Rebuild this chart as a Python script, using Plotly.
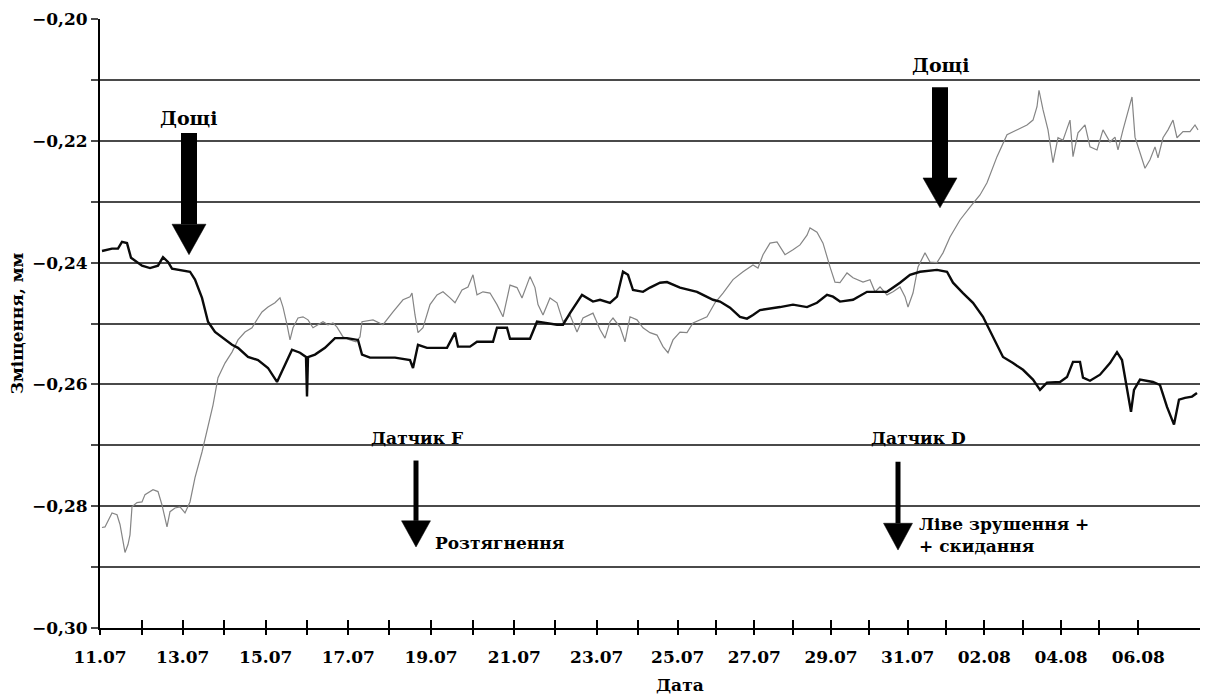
import plotly.graph_objects as go

# ---------------- data ----------------
# x: reading index along the logger record (11.07 = 0); y: displacement, mm
day_labels = ["11.07", "12.07", "13.07", "14.07", "15.07", "16.07", "17.07", "18.07",
              "19.07", "20.07", "21.07", "22.07", "23.07", "24.07", "25.07", "26.07",
              "27.07", "28.07", "29.07", "30.07", "31.07", "01.08", "02.08", "03.08",
              "04.08", "05.08", "06.08"]
day_tick_pos = [0, 41.7, 82.7, 124, 165.7, 206.7, 248.3, 289.3, 331, 372.7, 414.3,
                455.3, 496.7, 538.3, 577.7, 616, 654.3, 692.7, 731, 769.3, 807.7,
                846, 884.3, 922.7, 961, 999.3, 1038.3]

black_x = [2, 12, 18, 22, 27, 31, 42, 50, 58, 63, 68, 72, 90, 95, 102, 108, 115, 123,
           132, 138, 148, 158, 168, 177, 185, 192, 200, 206, 207, 208, 215, 225, 235,
           247, 258, 262, 270, 295, 310, 313, 318, 327, 347, 355, 358, 370, 377, 393,
           397, 407, 410, 430, 437, 457, 463, 470, 482, 493, 500, 510, 517, 523, 528,
           533, 543, 550, 560, 567, 580, 597, 603, 613, 620, 630, 640, 647, 653, 660,
           680, 693, 707, 717, 727, 733, 740, 753, 767, 787, 800, 810, 820, 837, 847,
           853, 863, 873, 883, 893, 903, 913, 923, 933, 940, 947, 960, 967, 973, 980,
           983, 990, 1000, 1010, 1017, 1022, 1031, 1034, 1040, 1053, 1060, 1067, 1074,
           1079, 1085, 1092, 1097]
black_y = [-0.2381, -0.2377, -0.2377, -0.2366, -0.2368, -0.2392, -0.2405, -0.2409,
           -0.2405, -0.2391, -0.2399, -0.2410, -0.2415, -0.2428, -0.2458, -0.2497,
           -0.2514, -0.2524, -0.2535, -0.2540, -0.2555, -0.2560, -0.2573, -0.2596,
           -0.2568, -0.2543, -0.2548, -0.2555, -0.2620, -0.2555, -0.2551, -0.2540,
           -0.2524, -0.2524, -0.2527, -0.2551, -0.2556, -0.2556, -0.2560, -0.2573,
           -0.2535, -0.2540, -0.2540, -0.2515, -0.2538, -0.2538, -0.2530, -0.2530,
           -0.2507, -0.2507, -0.2525, -0.2525, -0.2497, -0.2502, -0.2502, -0.2483,
           -0.2453, -0.2464, -0.2461, -0.2466, -0.2456, -0.2415, -0.2420, -0.2445,
           -0.2448, -0.2441, -0.2433, -0.2432, -0.2441, -0.2448, -0.2453, -0.2461,
           -0.2464, -0.2474, -0.2489, -0.2492, -0.2486, -0.2478, -0.2473, -0.2469,
           -0.2473, -0.2466, -0.2453, -0.2456, -0.2464, -0.2461, -0.2448, -0.2448,
           -0.2433, -0.2420, -0.2415, -0.2412, -0.2415, -0.2433, -0.2450, -0.2466,
           -0.2489, -0.2522, -0.2555, -0.2565, -0.2576, -0.2592, -0.2609, -0.2597,
           -0.2596, -0.2588, -0.2563, -0.2563, -0.2589, -0.2594, -0.2584, -0.2565,
           -0.2547, -0.2560, -0.2645, -0.2609, -0.2592, -0.2596, -0.2601, -0.2637,
           -0.2666, -0.2625, -0.2622, -0.2620, -0.2614]

grey_x = [2, 5, 12, 17, 20, 25, 28, 30, 32, 37, 42, 45, 53, 58, 62, 67, 70, 75, 80,
          85, 90, 95, 102, 108, 113, 118, 125, 132, 138, 145, 152, 158, 162, 168, 175,
          180, 183, 187, 190, 193, 198, 203, 208, 213, 218, 223, 228, 233, 237, 243,
          250, 256, 260, 262, 273, 283, 293, 303, 310, 312, 315, 318, 323, 330, 337,
          343, 350, 355, 362, 368, 373, 377, 383, 390, 397, 403, 410, 417, 422, 430,
          435, 438, 443, 450, 457, 463, 470, 477, 483, 493, 500, 505, 510, 513, 520,
          525, 530, 537, 543, 550, 557, 563, 568, 573, 580, 587, 593, 600, 607, 615,
          623, 633, 643, 653, 658, 663, 670, 677, 685, 693, 700, 707, 710, 717, 723,
          730, 735, 740, 747, 753, 763, 770, 775, 780, 787, 793, 800, 805, 808, 813,
          818, 825, 830, 837, 843, 850, 860, 870, 880, 887, 897, 907, 913, 927, 933,
          937, 939, 943, 948, 953, 958, 963, 970, 973, 978, 985, 990, 997, 1003, 1010,
          1015, 1018, 1023, 1032, 1035, 1040, 1045, 1050, 1055, 1058, 1063, 1068,
          1073, 1077, 1083, 1090, 1095, 1098]
grey_y = [-0.2835, -0.2834, -0.2811, -0.2814, -0.2830, -0.2876, -0.2863, -0.2847,
          -0.2801, -0.2794, -0.2793, -0.2781, -0.2773, -0.2776, -0.2798, -0.2834,
          -0.2809, -0.2803, -0.2801, -0.2811, -0.2793, -0.2753, -0.2711, -0.2666,
          -0.2634, -0.2589, -0.2565, -0.2547, -0.2527, -0.2514, -0.2507, -0.2491,
          -0.2481, -0.2473, -0.2466, -0.2458, -0.2473, -0.2502, -0.2527, -0.2507,
          -0.2491, -0.2489, -0.2494, -0.2507, -0.2502, -0.2497, -0.2502, -0.2499,
          -0.2506, -0.2522, -0.2527, -0.2530, -0.2522, -0.2497, -0.2494, -0.2502,
          -0.2481, -0.2461, -0.2456, -0.2450, -0.2486, -0.2515, -0.2507, -0.2469,
          -0.2453, -0.2448, -0.2458, -0.2466, -0.2445, -0.2440, -0.2420, -0.2453,
          -0.2448, -0.2450, -0.2469, -0.2489, -0.2437, -0.2441, -0.2458, -0.2423,
          -0.2441, -0.2469, -0.2486, -0.2458, -0.2466, -0.2497, -0.2486, -0.2514,
          -0.2491, -0.2483, -0.2510, -0.2524, -0.2497, -0.2491, -0.2506, -0.2530,
          -0.2489, -0.2494, -0.2507, -0.2515, -0.2519, -0.2538, -0.2548, -0.2527,
          -0.2514, -0.2515, -0.2499, -0.2494, -0.2489, -0.2466, -0.2450, -0.2428,
          -0.2415, -0.2404, -0.2409, -0.2387, -0.2368, -0.2366, -0.2387, -0.2379,
          -0.2371, -0.2355, -0.2343, -0.2350, -0.2368, -0.2407, -0.2432, -0.2433,
          -0.2417, -0.2425, -0.2432, -0.2428, -0.2448, -0.2440, -0.2453, -0.2448,
          -0.2440, -0.2456, -0.2473, -0.2450, -0.2407, -0.2384, -0.2399, -0.2400,
          -0.2384, -0.2358, -0.2330, -0.2309, -0.2289, -0.2269, -0.2226, -0.2190,
          -0.2185, -0.2174, -0.2166, -0.2144, -0.2117, -0.2149, -0.2182, -0.2236,
          -0.2195, -0.2199, -0.2166, -0.2226, -0.2187, -0.2174, -0.2210, -0.2215,
          -0.2182, -0.2202, -0.2194, -0.2215, -0.2182, -0.2128, -0.2194, -0.2220,
          -0.2245, -0.2231, -0.2210, -0.2228, -0.2195, -0.2182, -0.2166, -0.2195,
          -0.2185, -0.2185, -0.2174, -0.2182]

# events: rain (thick arrows) and sensor remarks (thin arrows)
rain_x = [89, 840]
rain_top = [-0.2187, -0.2112]
rain_head = [-0.2335, -0.2259]
rain_tip = [-0.2387, -0.2310]
sensor_x = [316, 798]
sensor_top = [-0.2725, -0.2727]
sensor_head = [-0.2822, -0.2826]
sensor_tip = [-0.2867, -0.2872]

# ---------------- figure ----------------
FONT = "DejaVu Serif"
INK = "#000000"
GRID = "#4a4a4a"

fig = go.Figure()
fig.add_trace(go.Scatter(x=grey_x, y=grey_y, mode="lines",
                         line=dict(color="#858585", width=1.2), hoverinfo="skip"))
fig.add_trace(go.Scatter(x=black_x, y=black_y, mode="lines",
                         line=dict(color="#0a0a0a", width=2.4), hoverinfo="skip"))
# invisible trace to anchor the inner-tick axis
fig.add_trace(go.Scatter(x=[day_tick_pos[0]], y=[-0.30], xaxis="x2", mode="markers",
                         marker=dict(opacity=0), hoverinfo="skip"))

shapes = []
def arrow(x, ytop, yhead, ytip, shaft_w, half_w):
    shapes.append(dict(type="line", xref="x", yref="y", x0=x, x1=x, y0=ytop, y1=yhead,
                       line=dict(color=INK, width=shaft_w)))
    shapes.append(dict(type="path", xref="x", yref="y",
                       path=f"M {x-half_w},{yhead} L {x+half_w},{yhead} L {x},{ytip} Z",
                       fillcolor=INK, line=dict(color=INK, width=0.5)))

for i in range(len(rain_x)):
    arrow(rain_x[i], rain_top[i], rain_head[i] - 0.0002, rain_tip[i], 16, 17)
for i in range(len(sensor_x)):
    arrow(sensor_x[i], sensor_top[i], sensor_head[i] - 0.0002, sensor_tip[i], 5, 14.5)

txt = dict(family=FONT, size=17, color=INK, weight="bold")
big = dict(family=FONT, size=19, color=INK, weight="bold")
annotations = [
    dict(x=88, y=-0.2162, text="Дощі", font=big),
    dict(x=840, y=-0.2075, text="Дощі", font=big),
    dict(x=317, y=-0.2688, text="Датчик F"),
    dict(x=818, y=-0.2688, text="Датчик D"),
    dict(x=333, y=-0.2860, text="Розтягнення", xanchor="left"),
    dict(x=817, y=-0.2847, text="Ліве зрушення +<br>+ скидання", xanchor="left", align="left"),
]
for a in annotations:
    a.update(xref="x", yref="y", showarrow=False, yanchor="middle")
    a.setdefault("font", txt)
    a.setdefault("xanchor", "center")
annotations.append(dict(xref="paper", yref="paper", x=0.527, y=-0.0936, text="Дата",
                        showarrow=False, xanchor="center", yanchor="middle", font=txt))

tick_text = [lab if i % 2 == 0 else "" for i, lab in enumerate(day_labels)]

fig.update_layout(
    width=1214, height=695,
    margin=dict(l=100, r=14, t=19, b=67, autoexpand=False),
    paper_bgcolor="white", plot_bgcolor="white",
    showlegend=False,
    separators=", ",
    font=dict(family=FONT, color=INK),
    shapes=shapes, annotations=annotations,
    xaxis=dict(range=[0, 1100], tickmode="array", tickvals=day_tick_pos, ticktext=tick_text,
               ticks="outside", ticklen=5, tickwidth=2, tickcolor=INK, automargin=False,
               showline=True, linecolor=INK, linewidth=2, showgrid=False, zeroline=False,
               tickfont=dict(family=FONT, size=17, color=INK, weight="bold"),
               ticklabelstandoff=8),
    xaxis2=dict(overlaying="x", matches="x", range=[0, 1100], tickmode="array",
                tickvals=day_tick_pos, showticklabels=False, ticks="inside", ticklen=8,
                tickwidth=2, tickcolor=INK, showline=False, showgrid=False, zeroline=False),
    yaxis=dict(range=[-0.30, -0.20], tick0=-0.30, dtick=0.02, tickformat=".2f",
               ticks="outside", ticklen=7, tickwidth=2, tickcolor=GRID, automargin=False,
               showline=True, linecolor=INK, linewidth=2,
               showgrid=True, gridcolor=GRID, gridwidth=2, zeroline=False,
               minor=dict(dtick=0.01, showgrid=True, gridcolor=GRID, gridwidth=2,
                          ticks="outside", ticklen=7, tickwidth=2, tickcolor=GRID),
               tickfont=dict(family=FONT, size=17, color=INK, weight="bold"),
               title=dict(text="Зміщення, мм", standoff=4,
                          font=dict(family=FONT, size=17, color=INK, weight="bold"))),
)

# remove the browser's default page margin so the figure sits at the window's corner
fig.write_html("out.html", config={"displayModeBar": False},
               post_script="document.body.style.margin='0';document.body.style.overflow='hidden';")
